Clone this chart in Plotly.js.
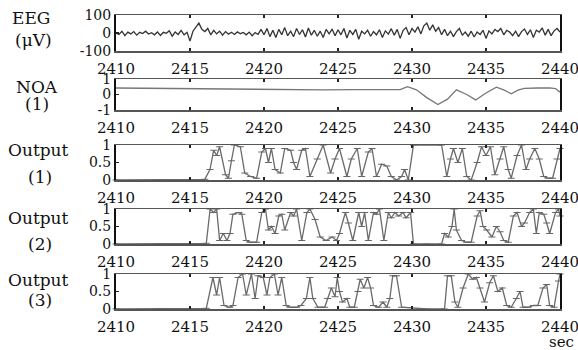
<!DOCTYPE html>
<html>
<head>
<meta charset="utf-8">
<script src="https://cdn.plot.ly/plotly-3.0.1.min.js"></script>
<style>html,body{margin:0;padding:0;background:#fff}#chart{width:578px;height:350px}</style>
</head>
<body>
<div id="chart"></div>
<script>
// ---- data ----
const xTicks = [2410, 2415, 2420, 2425, 2430, 2435, 2440];

const eegT0 = 2410, eegDt = 0.2;
const eegVals = [0,-8,10,-15,5,-5,8,-12,4,-3,10,-6,2,-10,6,-14,4,-2,12,-18,6,-8,14,-10,4,
 -45,10,30,55,20,8,25,-10,15,-5,10,-12,8,-6,4,-8,6,-4,3,-10,5,-15,2,-8,20,
 -10,25,-20,15,-25,20,-10,30,-15,10,-20,25,-8,18,-22,28,-12,15,-18,10,-25,20,-5,22,-15,
 18,-10,25,-28,15,-8,20,-35,10,-5,15,-18,8,-10,18,-25,12,-6,24,-12,20,-30,15,30,-10,
 25,5,35,-5,40,55,15,45,10,30,-10,20,-15,10,-20,8,25,-12,5,-18,10,-22,6,-8,15,
 -30,12,-5,20,8,25,-10,15,5,-15,10,-20,8,22,-8,18,-25,15,5,28,-12,20,-15,12,25,5];

const noaT = [2410,2412,2414,2416,2418,2420,2422,2424,2426,2428,2429.2,2429.7,2430.3,2431,2431.75,2432.4,2433,2433.7,2434.3,2435,2435.7,2436.2,2436.7,2437.2,2437.6,2438.5,2439.3,2439.7,2440];
const noaV = [0.42,0.4,0.37,0.35,0.33,0.3,0.31,0.3,0.32,0.3,0.32,0.5,0.3,-0.2,-0.65,-0.3,0.3,0.0,-0.35,0.1,0.47,0.3,0.05,0.3,0.4,0.42,0.43,0.38,0.15];

const out1T = [2410,2413,2416,2416.35,2416.6,2416.8,2417.0,2417.4,2417.6,2417.8,2418.0,2418.4,2418.7,2419.1,2419.5,2419.85,2420.1,2420.3,2420.5,2420.75,2421.1,2421.4,2421.8,2422.0,2422.2,2422.55,2422.8,2423.1,2423.6,2424.0,2424.5,2424.8,2425.1,2425.6,2425.9,2426.3,2426.6,2427.05,2427.3,2427.6,2427.95,2428.3,2428.6,2428.96,2429.3,2429.5,2429.75,2430.1,2432.0,2432.35,2432.6,2432.8,2433.1,2433.4,2433.7,2434.0,2434.4,2434.7,2435.0,2435.3,2435.6,2435.95,2436.2,2436.5,2436.7,2437.1,2437.4,2437.7,2437.95,2438.3,2438.6,2438.9,2439.2,2439.5,2439.8,2440.0];
const out1V = [0,0,0.02,0.3,0.85,0.7,0.95,0.15,0.05,0.55,1.0,0.95,0.2,0.1,0.05,0.8,0.9,0.5,0.9,0.3,0.2,0.9,0.85,0.5,0.3,0.85,0.9,0.1,0.6,1.0,0.2,0.6,0.9,0.1,0.6,0.9,0.1,0.8,0.9,0.1,0.45,0.4,0.1,0.0,0.1,0.3,0.0,1.0,1.0,0.1,0.6,0.9,0.5,0.9,0.1,0.0,0.5,0.95,0.7,0.95,0.15,0.6,0.95,0.3,0.05,0.7,1.0,0.3,0.6,0.9,0.6,0.1,0.05,0.05,0.6,0.9];

const out2T = [2410,2413,2416.1,2416.36,2416.6,2416.8,2417.0,2417.25,2417.5,2417.7,2417.9,2418.3,2418.5,2418.8,2419.05,2419.5,2419.85,2420.1,2420.3,2420.5,2420.75,2421.0,2421.2,2421.4,2421.8,2422.0,2422.2,2422.55,2422.9,2423.1,2423.45,2423.8,2424.2,2424.6,2424.9,2425.1,2425.5,2425.7,2426.0,2426.4,2426.6,2426.8,2427.05,2427.4,2427.6,2427.8,2428.1,2428.4,2428.6,2428.85,2429.1,2429.4,2429.6,2429.9,2430.1,2431,2432.0,2432.2,2432.45,2432.7,2432.85,2433.0,2433.35,2433.7,2434.0,2434.4,2434.6,2434.8,2435.05,2435.4,2435.7,2435.95,2436.2,2436.5,2436.85,2437.1,2437.4,2437.6,2437.95,2438.2,2438.4,2438.6,2438.9,2439.1,2439.3,2439.7,2439.9,2440.0];
const out2V = [0,0,0.02,1.0,0.9,1.0,0.1,0.3,0.1,0.3,0.85,0.9,0.85,0.1,0.05,0.05,0.9,1.0,0.4,0.5,0.3,0.8,0.85,0.4,0.9,0.8,1.0,0.1,0.9,1.0,0.7,0.2,0.1,0.2,0.1,0.3,0.9,0.6,0.1,0.9,0.5,0.9,0.1,0.9,0.85,1.0,0.1,0.9,0.75,0.9,0.8,0.9,0.75,0.9,0.0,0.0,0.0,0.3,0.2,0.5,1.0,0.4,0.1,0.05,0.05,0.8,0.95,0.5,0.4,0.2,0.5,0.35,0.1,0.05,0.8,0.9,0.5,0.6,0.9,1.0,0.3,0.9,0.85,0.6,0.3,0.9,1.0,0.8];

const out3T = [2410,2413,2416.1,2416.55,2416.8,2417.0,2417.3,2417.7,2417.9,2418.25,2418.55,2418.8,2419.15,2419.4,2419.6,2419.95,2420.2,2420.4,2420.7,2420.95,2421.2,2421.5,2421.75,2422.2,2422.5,2422.86,2423.1,2423.3,2423.65,2424.1,2424.3,2424.55,2424.8,2424.95,2425.1,2425.3,2425.6,2425.8,2426.1,2426.35,2426.5,2426.75,2427.0,2427.2,2427.4,2427.75,2428.04,2428.3,2428.5,2428.7,2428.95,2429.3,2431,2432.2,2432.4,2432.65,2432.9,2433.1,2433.45,2433.8,2434.1,2434.35,2434.6,2434.9,2435.25,2435.5,2435.8,2436.1,2436.4,2436.7,2437.05,2437.3,2437.5,2437.85,2438.2,2438.5,2438.85,2439.1,2439.3,2439.6,2439.9,2440.0];
const out3V = [0,0,0.02,0.9,0.4,0.9,0.1,0.05,0.1,0.9,1.0,0.4,1.0,0.3,0.95,0.9,0.4,0.9,1.0,0.4,0.9,0.1,0.05,0.05,0.1,0.3,0.9,0.3,0.05,0.05,0.3,0.6,0.35,0.9,0.5,0.2,0.3,0.05,0.05,0.5,0.85,0.6,0.9,0.6,0.1,0.05,0.2,0.05,0.3,0.95,0.95,0.05,0.0,0.0,0.95,0.95,0.2,0.05,0.6,1.0,0.85,0.9,0.6,0.2,0.75,0.95,0.5,0.6,0.1,0.05,0.3,0.5,0.05,0.05,0.1,0.1,0.6,0.7,0.1,0.05,0.8,1.0];

const panelLabels = [["EEG","(μV)"],["NOA","(1)"],["Output","(1)"],["Output","(2)"],["Output","(3)"]];

// ---- layout helpers ----
const W = 578, H = 350, L = 116, R = 560;
const panels = [[15,51],[79,110],[145,180],[209,244],[274,309]];
const labelPos = [[31,18,33,40],[37,87,37,104],[38,150,40,177],[38,218,40,244],[38,280,40,300]];
const yRanges = [[-100,100],[-1,1],[0,1],[0,1],[0,1]];
const yTicks = [[100,0,-100],[1,0,-1],[1,0.5,0],[1,0.5,0],[1,0.5,0]];
const yTickText = [["100","0","-100"],["1","0","-1"],["1","0.5","0"],["1","0.5","0"],["1","0.5","0"]];

const FONT = {family: "DejaVu Serif, serif", size: 15, color: "#111"};
const YFONT = {family: "DejaVu Serif, serif", size: 14, color: "#111"};
const eegT = eegVals.map((_, i) => eegT0 + i * eegDt);

const series = [[eegT, eegVals],[noaT, noaV],[out1T, out1V],[out2T, out2V],[out3T, out3V]];
const traces = [];
const layout = {
  width: W, height: H, showlegend: false,
  margin: {l: L, r: W - R, t: 0, b: 0},
  paper_bgcolor: "#fff", plot_bgcolor: "#fff",
  font: FONT, annotations: []
};

series.forEach((s, i) => {
  const n = i === 0 ? "" : String(i + 1);
  const tr = {
    x: s[0], y: s[1], xaxis: "x" + n, yaxis: "y" + n, type: "scatter",
    mode: i >= 2 ? "lines+markers" : "lines", cliponaxis: false,
    line: {color: i === 0 ? "#333" : (i === 1 ? "#777" : "#6a6a6a"), width: 1.3}
  };
  if (i >= 2) tr.marker = {symbol: "line-ew", size: 5, color: "#666", line: {color: "#666", width: 1}};
  traces.push(tr);
  const p = panels[i];
  layout["xaxis" + n] = {
    domain: [0, 1], anchor: "y" + n, range: [2410, 2440],
    tickvals: xTicks, ticktext: xTicks.map(String),
    ticks: "inside", ticklen: 3, tickwidth: 2, tickcolor: "#222",
    showline: true, linecolor: "#555", linewidth: 1.5, mirror: "ticks",
    showgrid: false, zeroline: false, tickfont: FONT, ticklabeloverflow: "allow",
    ticklabelstandoff: 3
  };
  layout["yaxis" + n] = {
    domain: [1 - p[1] / H, 1 - p[0] / H], anchor: "x" + n, range: yRanges[i],
    tickvals: yTicks[i], ticktext: yTickText[i],
    ticks: "inside", ticklen: 3, tickwidth: 1.5, tickcolor: "#222",
    showline: true, linecolor: "#111", linewidth: 2, mirror: true,
    showgrid: false, zeroline: false, tickfont: YFONT, ticklabeloverflow: "allow"
  };
  const lp = labelPos[i];
  layout.annotations.push({
    xref: "paper", yref: "paper", x: (lp[0] - L) / (R - L), y: 1 - lp[1] / H,
    xanchor: "center", yanchor: "middle", text: panelLabels[i][0], showarrow: false,
    font: {family: "DejaVu Serif, serif", size: 17, color: "#111"}
  });
  layout.annotations.push({
    xref: "paper", yref: "paper", x: (lp[2] - L) / (R - L), y: 1 - lp[3] / H,
    xanchor: "center", yanchor: "middle", text: panelLabels[i][1], showarrow: false,
    font: {family: "DejaVu Serif, serif", size: 17, color: "#111"}
  });
});
layout.annotations.push({
  xref: "paper", yref: "paper", x: (561 - L) / (R - L), y: 1 - 342 / H,
  xanchor: "center", yanchor: "middle", text: "sec", showarrow: false,
  font: {family: "DejaVu Serif, serif", size: 15, color: "#111"}
});

Plotly.newPlot("chart", traces, layout, {staticPlot: true, displayModeBar: false});
</script>
</body>
</html>
